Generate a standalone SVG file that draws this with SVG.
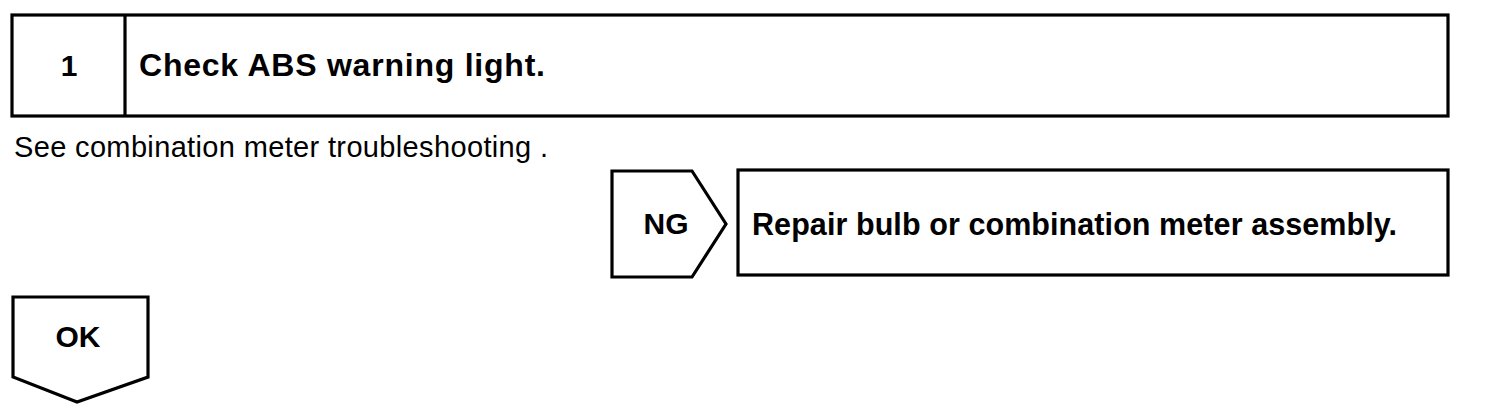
<svg xmlns="http://www.w3.org/2000/svg" width="1504" height="418" viewBox="0 0 1504 418">
<style>
.box{fill:#fff;stroke:#000;stroke-width:3.2;stroke-linejoin:miter}
.b{font-family:"Liberation Sans",Arial,sans-serif;font-weight:bold;font-size:30px;fill:#000}
.r{font-family:"Liberation Sans",Arial,sans-serif;font-size:29px;fill:#000}
</style>
<rect width="1504" height="418" fill="#fff"/>
<g id="step1">
<rect class="box" x="12" y="15" width="1436" height="101"/>
<line class="box" x1="125" y1="15" x2="125" y2="116"/>
<text class="b" x="69" y="76" text-anchor="middle">1</text>
<text class="b" x="139" y="76" style="font-size:32px" textLength="406" lengthAdjust="spacing">Check ABS warning light.</text>
</g>
<g id="note">
<text class="r" x="14" y="157" textLength="534" lengthAdjust="spacing">See combination meter troubleshooting .</text>
</g>
<g id="ng">
<path class="box" d="M612,171 L692,171 L726,224 L692,277 L612,277 Z"/>
<text class="b" x="666" y="234" text-anchor="middle">NG</text>
</g>
<g id="repair">
<rect class="box" x="738" y="170" width="710" height="105"/>
<text class="b" x="752" y="235" style="font-size:30.5px" textLength="645" lengthAdjust="spacing">Repair bulb or combination meter assembly.</text>
</g>
<g id="ok">
<path class="box" d="M13,297 L148,297 L148,377 L77,402 L13,377 Z"/>
<text class="b" x="78" y="347" text-anchor="middle">OK</text>
</g>
<g id="connectors"></g>
</svg>
